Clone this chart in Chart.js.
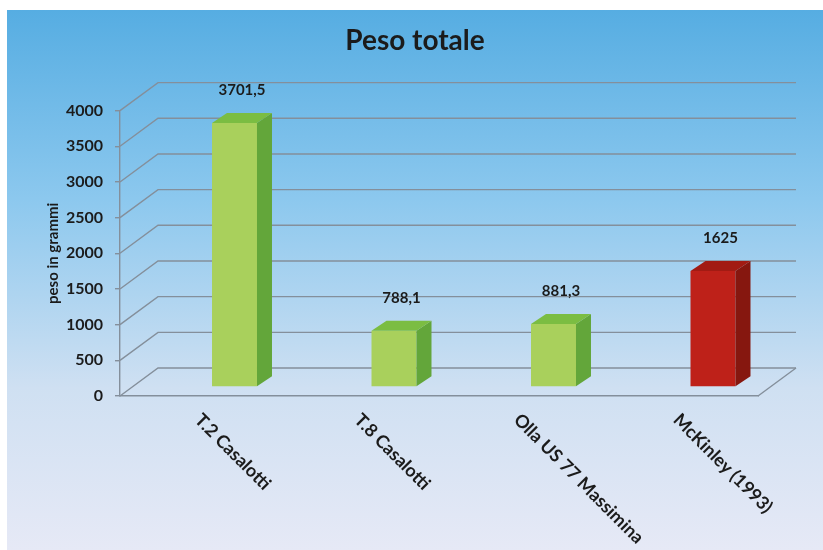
<!DOCTYPE html>
<html>
<head>
<meta charset="utf-8">
<script src="https://cdn.jsdelivr.net/npm/chart.js@4.4.1/dist/chart.umd.min.js"></script>
<style>
  html, body { margin: 0; padding: 0; background: #fff; }
  #wrap { width: 823px; height: 550px; }
</style>
</head>
<body>
<div id="wrap"><canvas id="myChart" width="823" height="550"></canvas></div>
<script>
// dati
var categorie = ['T.2 Casalotti', 'T.8 Casalotti', 'Olla US 77 Massimina', 'McKinley (1993)'];
var pesi = [3701.5, 788.1, 881.3, 1625];
var tickValori = [0, 500, 1000, 1500, 2000, 2500, 3000, 3500, 4000];

var FONT = 'Lato, "Open Sans", sans-serif';
var gridColor = '#848f9b';
// colori per barra: fronte, lato, sopra
var fronte = ['#a9d05c', '#a9d05c', '#a9d05c', '#be2119'];
var lato   = ['#63a63a', '#63a63a', '#63a63a', '#86170f'];
var sopra  = ['#7bbd42', '#7bbd42', '#7bbd42', '#a21b13'];

// profondita del 3D
var DX = 38, DY = -28;       // parete di fondo
var BX = 34.75, BY = -9;     // piano delle barre
var SX = 15, SY = -10;       // spessore barre

var sfondo = {
  id: 'sfondo',
  beforeDraw: function(chart) {
    var c = chart.ctx;
    var g = c.createLinearGradient(0, 10, 0, 550);
    g.addColorStop(0, '#56ade2');
    g.addColorStop(0.35, '#8cc8ee');
    g.addColorStop(0.7, '#cfe0f2');
    g.addColorStop(1, '#e6e9f6');
    c.save();
    c.fillStyle = '#fff';
    c.fillRect(0, 0, chart.width, chart.height);
    c.fillStyle = g;
    c.fillRect(7, 10, chart.width - 7, chart.height - 10);
    c.restore();
  }
};

var griglia3d = {
  id: 'griglia3d',
  beforeDatasetsDraw: function(chart) {
    var c = chart.ctx, y = chart.scales.y, a = chart.chartArea;
    c.save();
    c.strokeStyle = gridColor;
    c.lineWidth = 1.4;
    tickValori.forEach(function(v) {
      var py = y.getPixelForValue(v);
      c.beginPath();
      c.moveTo(a.left, py);
      c.lineTo(a.left + DX, py + DY);
      c.lineTo(a.right + DX, py + DY);
      c.stroke();
    });
    var p0 = y.getPixelForValue(0);
    c.beginPath();
    c.moveTo(a.right, p0);
    c.lineTo(a.right + DX, p0 + DY);
    c.stroke();
    c.restore();
    // barre spostate sul loro piano
    c.save();
    c.translate(BX, BY);
  },
  afterDatasetsDraw: function(chart) {
    var c = chart.ctx;
    var meta = chart.getDatasetMeta(0);
    meta.data.forEach(function(bar, i) {
      var p = bar.getProps(['x', 'y', 'base', 'width'], true);
      var l = p.x - p.width / 2, r = p.x + p.width / 2;
      c.fillStyle = lato[i];
      c.beginPath();
      c.moveTo(r, p.y);
      c.lineTo(r + SX, p.y + SY);
      c.lineTo(r + SX, p.base + SY);
      c.lineTo(r, p.base);
      c.closePath();
      c.fill();
      c.fillStyle = sopra[i];
      c.beginPath();
      c.moveTo(l, p.y);
      c.lineTo(l + SX, p.y + SY);
      c.lineTo(r + SX, p.y + SY);
      c.lineTo(r, p.y);
      c.closePath();
      c.fill();
      // etichetta valore
      c.fillStyle = '#1b1b1b';
      c.font = 'bold 15px ' + FONT;
      c.textAlign = 'center';
      c.textBaseline = 'middle';
      c.fillText(String(pesi[i]).replace('.', ','), p.x + SX / 2, p.y - 33);
    });
    c.restore();
  },
  afterDraw: function(chart) {
    var c = chart.ctx, x = chart.scales.x;
    c.save();
    c.fillStyle = '#1b1b1b';
    c.font = 'bold 18px ' + FONT;
    c.textAlign = 'left';
    c.textBaseline = 'middle';
    categorie.forEach(function(lab, i) {
      c.save();
      c.translate(x.getPixelForTick(i) - 2, 417);
      c.rotate(Math.PI / 4);
      c.fillText(lab, 0, 0);
      c.restore();
    });
    c.restore();
  }
};

var ctx = document.getElementById('myChart');
var myChart = new Chart(ctx, {
  type: 'bar',
  data: {
    labels: categorie,
    datasets: [{
      label: 'Peso totale',
      data: pesi,
      backgroundColor: fronte,
      borderWidth: 0,
      barPercentage: 0.282,
      categoryPercentage: 1
    }]
  },
  options: {
    responsive: false,
    animation: false,
    layout: { padding: { left: 7, right: 0, top: 0, bottom: 0 } },
    plugins: {
      legend: { display: false },
      tooltip: { enabled: false },
      title: {
        display: true,
        text: 'Peso totale',
        color: '#1b1b1b',
        font: { family: FONT, size: 28, weight: 'bold', lineHeight: 1.2 },
        padding: { top: 24, bottom: 53 }
      }
    },
    scales: {
      x: {
        grid: { display: false },
        border: { display: true, color: gridColor, width: 1.4 },
        ticks: { display: false },
        afterFit: function(s) { s.height = 154; }
      },
      y: {
        min: 0,
        max: 4000,
        ticks: {
          stepSize: 500,
          padding: 12,
          color: '#1b1b1b',
          font: { family: FONT, size: 16, weight: 'bold' },
          callback: function(v) { return String(v); }
        },
        grid: { drawOnChartArea: false, tickLength: 5, color: gridColor, lineWidth: 1.4 },
        border: { display: true, color: gridColor, width: 1.4 },
        title: {
          display: true,
          text: 'peso in grammi',
          color: '#1b1b1b',
          font: { family: FONT, size: 15, weight: 'bold' },
          padding: { top: 37, bottom: 0 }
        },
        afterFit: function(s) { s.width = 113; }
      },
      // spazio vuoto a destra per la profondita
      destra: {
        position: 'right',
        display: true,
        ticks: { display: false },
        grid: { display: false },
        border: { display: false },
        afterFit: function(s) { s.width = 65; }
      }
    }
  },
  plugins: [sfondo, griglia3d]
});
</script>
</body>
</html>
